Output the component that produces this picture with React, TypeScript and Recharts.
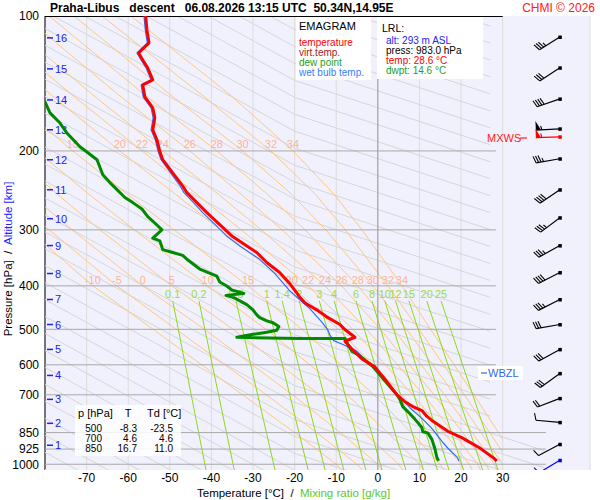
import { ComposedChart, Scatter, XAxis, YAxis, CartesianGrid } from "recharts";

const FONT = '"Liberation Sans", Arial, Helvetica, sans-serif';

// ---- profiles: [pressure hPa, value °C] ----
const temperature = [
  [100, -55.8], [107.4, -55.5], [114.8, -55.0], [120.9, -57.5], [125.3, -56.5], [130.6, -55.3],
  [138.8, -54.1], [142.5, -56.5], [151.5, -56.0], [160.3, -54.1], [168.7, -53.6], [179.5, -54.1],
  [188.8, -53.1], [200.7, -52.4], [209.2, -51.7], [223.8, -49.3], [238, -47.1], [247.8, -45.9],
  [260.8, -43.5], [274.5, -41.1], [292.1, -38.0], [310.5, -34.9], [326.9, -31.3], [337, -29.1],
  [354.7, -26.7], [373.4, -23.6], [395, -21.2], [423.4, -18.8], [436.8, -17.5], [452.4, -14.7],
  [469, -12.3], [487.8, -9.1], [500, -8.0], [520.8, -5.5], [531.6, -7.9], [553.7, -6.2],
  [582.3, -3.8], [606.4, -0.7], [654.7, 2.2], [700, 4.6], [725.1, 6.5], [743.7, 8.4],
  [758.8, 10.6], [782.2, 11.8], [798.3, 13.0], [846, 17.0], [874.6, 20.4], [919.9, 24.5],
  [967.8, 27.8], [983, 28.6],
];

const dewPoint = [
  [140, -84], [155.4, -80.0], [164.5, -78.8], [173.3, -76.4], [182.1, -74.8], [195.8, -71.6],
  [200.9, -70.0], [209.2, -67.5], [226.1, -66.1], [235.3, -64.4], [244, -62.7], [254, -60.8],
  [260.8, -58.9], [269.5, -56.7], [280.3, -55.3], [289.6, -53.6], [300, -51.9], [312.9, -54.1],
  [317.3, -52.4], [332, -51.7], [337, -49.3], [342.1, -46.9], [348.8, -45.9], [366.9, -42.8],
  [380.5, -38.7], [392.1, -38.0], [400.2, -36.3], [408.6, -35.1], [415.8, -32.2], [420, -36.5],
  [425, -34.6], [440.5, -31.5], [452.4, -30.0], [464.3, -29.1], [471, -28.4], [478.8, -26.7],
  [483.4, -25.2], [493, -23.8], [502.6, -24.3], [507.7, -26.7], [513, -30.0], [521, -33.9],
  [524, -18.8], [524, -7.9], [540.3, -7.2], [560.3, -6.2], [569, -4.8], [593.2, -2.4],
  [605.5, -1.2], [654.7, 1.9], [700, 4.6], [717, 5.3], [744, 6.0], [763, 7.2], [793, 8.9],
  [828, 10.6], [846, 10.8], [851, 12.0], [880, 13.0], [922, 13.7], [966, 14.2], [983, 14.6],
];

const wetBulb = [
  [100, -56.2], [107.4, -55.9], [114.8, -55.4], [120.9, -57.9], [125.3, -56.9], [130.6, -55.7],
  [138.8, -54.5], [142.5, -56.9], [151.5, -56.4], [160.3, -54.5], [168.7, -54.0], [179.5, -54.5],
  [188.8, -53.5], [200.7, -52.8], [209.2, -52.1], [223.8, -49.8], [238, -47.7], [247.8, -46.6],
  [260.8, -44.3], [274.5, -42.1], [295, -38.6], [310.5, -36.2], [326.9, -33.0], [349, -28.4],
  [373.4, -25.0], [410, -21.2], [450, -16.3], [480, -13.6], [500, -12.1], [515, -11.5],
  [530, -10.6], [542, -8.1], [560, -5.0], [575, -3.8], [606.4, -0.9], [654.7, 2.0], [700, 4.6],
  [717, 6.0], [748, 7.7], [793, 10.8], [836, 13.2], [889, 15.4], [920, 16.8], [968, 19.2],
  [983, 19.5],
];

// ---- diagram background ----
const pressureTicks = [100, 200, 300, 400, 500, 600, 700, 850, 925, 1000];
const tempTicks = [-70, -60, -50, -40, -30, -20, -10, 0, 10, 20, 30];
const isobars = [200, 300, 400, 500, 600, 700, 850, 925, 1000];
const isobarEnd = [28.4, 28.4, 28.4, 28.4, 28.4, 28.4, 40.4, 40.4, 40.4];

// grey diagonal family: pressures at T=27 (right), T=-20 (middle), T=-80 (left)
const dryRightP = [105.3, 114.9, 125.3, 136.7, 149.2, 162.8, 177.6, 193.7, 211.4, 230.6, 251.6, 274.5, 299.5, 326.7, 356.5, 388.9, 424.3, 462.9, 505.0, 551.0, 601.1, 655.8, 715.5, 780.6, 851.6, 929.1, 1013.7, 1105.9, 1206.5, 1316.3, 1436.1, 1566.8, 1709.4, 1864.9, 2034.6, 2219.8, 2421.8, 2642.2, 2882.6];
const dryMidP = [75.6, 82.5, 90.0, 98.2, 107.2, 117.0, 127.6, 139.2, 151.9, 165.7, 180.7, 197.2, 215.2, 234.7, 256.1, 279.4, 304.8, 332.5, 362.8, 395.8, 431.8, 471.1, 514.0, 560.8, 611.8, 667.5, 728.2, 794.5, 866.7, 945.6, 1031.7, 1125.6, 1228.0, 1339.7, 1461.6, 1594.7, 1739.8, 1898.1, 2070.8];
const dryLeftP = [37.5, 40.9, 44.6, 48.6, 53.1, 57.9, 63.2, 68.9, 75.2, 82.1, 89.5, 97.7, 106.6, 116.3, 126.9, 138.4, 151.0, 164.7, 179.7, 196.1, 213.9, 233.4, 254.6, 277.8, 303.1, 330.6, 360.7, 393.6, 429.4, 468.4, 511.1, 557.6, 608.3, 663.7, 724.1, 790.0, 861.9, 940.3, 1025.8];
// lower lines continue to T=40 (index 24 onwards)
const dryExtP = [932.5, 1017.4, 1110.0, 1211.0, 1321.1, 1441.4, 1572.5, 1715.6, 1871.8, 2042.1, 2227.9, 2430.7, 2652.0, 2893.3, 3156.5];

// moist adiabats (theta-w), [p, T]
const moistAdiabats = [
  [[1030, -8.5], [1000, -10], [850, -20], [700, -32.5], [500, -54], [400, -68.5], [300, -84]],
  [[1030, -3.7], [1000, -5], [850, -14.7], [700, -26.8], [500, -48.5], [400, -62.7], [300, -79], [250, -89]],
  [[1030, 1], [1000, 0], [850, -9], [700, -20.5], [500, -41.7], [400, -56.5], [300, -73.5], [250, -83.5]],
  [[1030, 6], [1000, 5], [850, -3.3], [700, -14], [500, -34.8], [400, -49.5], [300, -66.8], [250, -77], [200, -89]],
  [[1030, 11], [1000, 10], [850, 2.4], [700, -7.4], [500, -26.9], [400, -40.9], [300, -58.5], [250, -69.4], [200, -82]],
  [[1030, 15.8], [1000, 15], [850, 8.05], [700, -0.95], [500, -18.2], [400, -31.2], [300, -49], [250, -60.2], [200, -73.3], [150, -89.4]],
  [[1030, 20.7], [1000, 20], [850, 13.7], [700, 5.8], [500, -9.5], [400, -20.7], [300, -37.8], [250, -48.6], [200, -62], [150, -78.5], [100, -100]],
  [[1030, 22.7], [1000, 22], [850, 15.9], [700, 8.4], [500, -6], [400, -16.8], [300, -32.8], [250, -43.5], [200, -56.7], [150, -73.5], [100, -96]],
  [[1030, 24.7], [1000, 24], [850, 18.1], [700, 11], [500, -2.7], [400, -12.7], [300, -28], [250, -38.3], [200, -51.7], [150, -68.5], [100, -91]],
  [[1030, 26.7], [1000, 26], [850, 20.4], [700, 13.5], [500, 0.6], [400, -8.7], [300, -23], [250, -32.8], [200, -45.2], [150, -62.3], [100, -85]],
  [[1030, 28.7], [1000, 28], [850, 22.7], [700, 16], [500, 3.8], [400, -4.8], [300, -17.5], [250, -26.5], [200, -38.7], [150, -56], [100, -79]],
  [[1000, 30], [850, 24.8], [700, 18.5], [500, 6.9], [400, -1.2], [300, -12.5], [250, -20.7], [200, -32.5], [150, -49.8], [100, -73]],
  [[940, 30], [850, 26.9], [700, 20.8], [500, 9.9], [400, 2.4], [300, -7.8], [250, -15], [200, -25.7], [150, -42.3], [100, -66.3]],
  [[880, 30], [850, 29], [700, 23.1], [500, 12.7], [400, 5.8], [300, -3.8], [250, -10.5], [200, -20.4], [150, -35.5], [100, -59.3]],
];
const moistLabels400 = ["-10", "-5", "0", "5", "10", "15", "20", "22", "24", "26", "28", "30", "32", "34"];
const moistT400 = [-68.5, -62.7, -56.5, -49.5, -40.9, -31.2, -20.7, -16.8, -12.7, -8.7, -4.8, -1.2, 2.4, 5.8];
const moistLabels200 = ["15", "20", "22", "24", "26", "28", "30", "32", "34"];
const moistT200 = [-73.3, -62, -56.7, -51.7, -45.2, -38.7, -32.5, -25.7, -20.4];

// mixing ratio lines: label, T at 432 hPa, T at 1030 hPa
const mixLabels = ["0.1", "0.2", "0.5", "1", "1.4", "2", "3", "4", "6", "8", "10", "12", "15", "20", "25"];
const mixTopT = [-49.3, -43.0, -34.1, -26.7, -23.0, -18.9, -14.06, -10.5, -5.25, -1.4, 1.68, 4.26, 7.48, 11.76, 15.19];
const mixBottomT = [-41.3, -34.5, -24.7, -16.75, -12.67, -8.17, -2.89, 1.02, 6.74, 10.96, 14.31, 17.11, 20.6, 25.2, 28.9];

// altitude marks (km) and their pressure
const altKm = [16, 15, 14, 13, 12, 11, 10, 9, 8, 7, 6, 5, 4, 3, 2, 1];
const altP = [111.9, 131.2, 153.9, 179.4, 209.3, 244.1, 283.3, 325.2, 375.4, 429.0, 487.8, 554.4, 633.7, 716.6, 810.4, 907.1];

// wind barbs
const barbP = [111.4, 130.5, 153.1, 178.5, 208.2, 244.1, 281.8, 325.2, 373.5, 429.0, 487.8, 554.4, 627.2, 712.9, 806.3, 902.5, 979.7];
const barbAngle = [32, 33, 19, 3, 10, 34, 37, 29, 27, 27, 10, 29, 36, 21, -5, 28, 31];
const barbSpeed = [35, 30, 40, 55, 35, 40, 35, 35, 40, 35, 30, 30, 30, 20, 10, 10, 10];
const maxWind = { p: 186, ang: 2, spd: 55 };
const BARB_T = 43.75;

// 850/700/500 table
const tableP = ["500", "700", "850"];
const tableT = ["-8.3", "4.6", "16.7"];
const tableTd = ["-23.5", "4.6", "11.0"];

const pts = (pairs: number[][]) => pairs.map(([p, t]) => ({ p, t }));
const noDot = () => <g />;

const series = (key: string, data: any[], stroke: string, width = 1) => (
  <Scatter
    key={key}
    data={data}
    line={{ stroke, strokeWidth: width, strokeLinejoin: "round" }}
    shape={noDot}
    fill="none"
    legendType="none"
    isAnimationActive={false}
  />
);

const textShape = (color: string, dy: number) => (props: any) => (
  <text x={props.cx} y={props.cy + dy} textAnchor="middle" fontSize={11} fill={color} fontFamily={FONT}>
    {props.payload.label}
  </text>
);

const altShape = (props: any) => (
  <g>
    <line x1={props.cx + 2} y1={props.cy} x2={props.cx + 8} y2={props.cy} stroke="#2222ee" strokeWidth={1.5} />
    <text x={props.cx + 10} y={props.cy + 4} fontSize={11} fill="#2222ee" fontFamily={FONT}>
      {props.payload.label}
    </text>
  </g>
);

const barbShape = (props: any) => {
  const { cx, cy, payload } = props;
  const a = (payload.ang * Math.PI) / 180;
  const ux = -Math.cos(a);
  const uy = Math.sin(a);
  const nx = -Math.sin(a);
  const ny = -Math.cos(a);
  const L = 24;
  const bx = cx + ux * L;
  const by = cy + uy * L;
  const c = payload.color;
  const parts: any[] = [<line key="s" x1={cx} y1={cy} x2={bx} y2={by} stroke={c} strokeWidth={1.2} />];
  let s = payload.spd;
  let d = 0;
  let i = 0;
  while (s >= 50) {
    const x0 = bx - ux * d, y0 = by - uy * d;
    const x1 = bx - ux * (d + 5), y1 = by - uy * (d + 5);
    parts.push(<polygon key={"f" + i++} points={`${x0},${y0} ${x0 + nx * 9},${y0 + ny * 9} ${x1},${y1}`} fill={c} />);
    s -= 50;
    d += 6;
  }
  while (s >= 10) {
    const x0 = bx - ux * d, y0 = by - uy * d;
    parts.push(<line key={"b" + i++} x1={x0} y1={y0} x2={x0 + nx * 7 + ux * 2} y2={y0 + ny * 7 + uy * 2} stroke={c} strokeWidth={1.1} />);
    s -= 10;
    d += 2.5;
  }
  if (s >= 5) {
    const x0 = bx - ux * d, y0 = by - uy * d;
    parts.push(<line key="h" x1={x0} y1={y0} x2={x0 + nx * 4 + ux} y2={y0 + ny * 4 + uy} stroke={c} strokeWidth={1.1} />);
  }
  parts.push(<rect key="d" x={cx - 1.5} y={cy - 1.5} width={3.5} height={3.5} fill={c} />);
  return <g>{parts}</g>;
};

export default function App() {
  const dryLines = dryRightP.map((pr, i) => {
    const line = [
      { t: -80, p: dryLeftP[i] },
      { t: -20, p: dryMidP[i] },
      { t: 27, p: pr },
    ];
    if (i >= 24) line.push({ t: 40, p: dryExtP[i - 24] });
    return line;
  });

  const barbs = barbP.map((p, i) => ({
    t: BARB_T,
    p,
    ang: barbAngle[i],
    spd: barbSpeed[i],
    color: i === barbP.length - 1 ? "#0000ff" : "#000000",
  }));
  const mxws = [{ t: BARB_T, p: maxWind.p, ang: maxWind.ang, spd: maxWind.spd, color: "#ff0000" }];

  return (
    <div style={{ position: "absolute", left: 0, top: 0, width: 600, height: 500, background: "#fff", fontFamily: FONT }}>
      <ComposedChart width={600} height={500} margin={{ top: 16, right: 10, bottom: 0, left: 0 }}>
        <CartesianGrid horizontal={false} vertical stroke="#dcdcdc" fill="#f1f1fd" />
        <XAxis
          type="number"
          dataKey="t"
          domain={[-80, 51]}
          allowDataOverflow
          ticks={tempTicks}
          interval={0}
          height={30}
          tickLine={false}
          axisLine={false}
          tickSize={0}
          tickMargin={3}
          tick={{ fontSize: 12, fill: "#000", fontFamily: FONT }}
        />
        <YAxis
          type="number"
          dataKey="p"
          scale="log"
          domain={[100, 1030]}
          reversed
          allowDataOverflow
          ticks={pressureTicks}
          interval={0}
          width={45}
          tickLine={false}
          axisLine={{ stroke: "#000" }}
          tickSize={0}
          tickMargin={6}
          tick={{ fontSize: 12, fill: "#000", fontFamily: FONT }}
        />

        {dryLines.map((l, i) => series("dry" + i, l, "#d6d6d6", 1))}
        {moistAdiabats.map((l, i) => series("moist" + i, pts(l), "#ffc783", 1))}
        {mixTopT.map((tt, i) =>
          series("mix" + i, [{ t: tt, p: 432 }, { t: mixBottomT[i], p: 1030 }], "#8fd81a", 1)
        )}
        {series("iso0", [{ t: 0, p: 100 }, { t: 0, p: 1030 }], "#9a9a9a", 1)}
        {isobars.map((p, i) => series("isobar" + i, [{ t: -80, p }, { t: isobarEnd[i], p }], "#a8a8a8", 1))}
        {series("top", [{ t: -80, p: 100 }, { t: 30, p: 100 }], "#000", 2)}

        <Scatter
          data={moistT400.map((t, i) => ({ t, p: 400, label: moistLabels400[i] }))}
          shape={textShape("#ffb394", -2)}
          legendType="none"
          isAnimationActive={false}
        />
        <Scatter
          data={moistT200.map((t, i) => ({ t, p: 200, label: moistLabels200[i] }))}
          shape={textShape("#ffb394", -3)}
          legendType="none"
          isAnimationActive={false}
        />
        <Scatter
          data={mixTopT.map((t, i) => ({ t, p: 432, label: mixLabels[i] }))}
          shape={textShape("#9edb3c", -3)}
          legendType="none"
          isAnimationActive={false}
        />
        <Scatter
          data={altKm.map((k, i) => ({ t: -80, p: altP[i], label: String(k) }))}
          shape={altShape}
          legendType="none"
          isAnimationActive={false}
        />

        {series("wetbulb", pts(wetBulb), "#2f6fff", 1.2)}
        {series("dewpoint", pts(dewPoint), "#008a00", 3)}
        {series("temperature", pts(temperature), "#ff0000", 3)}

        <Scatter data={barbs} shape={barbShape} legendType="none" isAnimationActive={false} />
        <Scatter data={mxws} shape={barbShape} legendType="none" isAnimationActive={false} />
      </ComposedChart>

      <svg width={600} height={500} style={{ position: "absolute", left: 0, top: 0, pointerEvents: "none" }} fontFamily={FONT}>
        <text x={50} y={12} fontSize={12} fontWeight="bold" fill="#000" style={{ whiteSpace: "pre" }}>
          {"Praha-Libus   descent   06.08.2026 13:15 UTC  50.34N,14.95E"}
        </text>
        <text x={595} y={12} fontSize={12} fill="#ff2020" textAnchor="end">CHMI © 2026</text>

        <rect x={296} y={17} width={75} height={63} fill="#fff" />
        <text x={299} y={30} fontSize={11} fill="#000">EMAGRAM</text>
        <text x={299} y={46} fontSize={10} fill="#ff0000">temperature</text>
        <text x={299} y={56} fontSize={10} fill="#a82020">virt.temp.</text>
        <text x={299} y={66} fontSize={10} fill="#22a022">dew point</text>
        <text x={299} y={76} fontSize={10} fill="#3a7cff">wet bulb temp.</text>

        <rect x={377} y={17} width={106} height={62} fill="#fff" />
        <text x={382} y={32} fontSize={10.5} fill="#000">LRL:</text>
        <text x={386} y={44} fontSize={10} fill="#2222ff">alt: 293 m ASL</text>
        <text x={386} y={54} fontSize={10} fill="#000">press: 983.0 hPa</text>
        <text x={386} y={64} fontSize={10} fill="#ff0000">temp: 28.6 °C</text>
        <text x={386} y={74} fontSize={10} fill="#22a022">dwpt: 14.6 °C</text>

        <rect x={75} y={405} width={106} height={51} fill="#fff" fillOpacity={0.85} />
        <text x={78} y={417} fontSize={11} fill="#000">p [hPa]</text>
        <text x={128} y={417} fontSize={11} fill="#000" textAnchor="middle">T</text>
        <text x={147} y={417} fontSize={11} fill="#000">Td [°C]</text>
        {tableP.map((p, i) => (
          <g key={p} fill="#000">
            <text x={102} y={431.5 + i * 10} fontSize={10} textAnchor="end">{p}</text>
            <text x={137} y={431.5 + i * 10} fontSize={10} textAnchor="end">{tableT[i]}</text>
            <text x={173} y={431.5 + i * 10} fontSize={10} textAnchor="end">{tableTd[i]}</text>
          </g>
        ))}

        <text x={487} y={142} fontSize={11} fill="#ff2020">MXWS</text>
        <line x1={520} y1={138} x2={527} y2={138} stroke="#ff2020" strokeWidth={1.2} />

        <rect x={478} y={366} width={45} height={14} fill="#fff" />
        <line x1={481} y1={373} x2={487} y2={373} stroke="#3366ee" strokeWidth={1.2} />
        <text x={488} y={377} fontSize={11} fill="#3366ee">WBZL</text>

        <text transform="translate(12,259) rotate(-90)" textAnchor="middle" fontSize={11.5} style={{ whiteSpace: "pre" }}>
          <tspan fill="#000">{"Pressure [hPa]  /  "}</tspan>
          <tspan fill="#2222ff">Altitude [km]</tspan>
        </text>
        <text x={197} y={497} fontSize={11.5} style={{ whiteSpace: "pre" }}>
          <tspan fill="#000">{"Temperature [°C]  /  "}</tspan>
          <tspan fill="#5cc82a">Mixing ratio [g/kg]</tspan>
        </text>
      </svg>
    </div>
  );
}
